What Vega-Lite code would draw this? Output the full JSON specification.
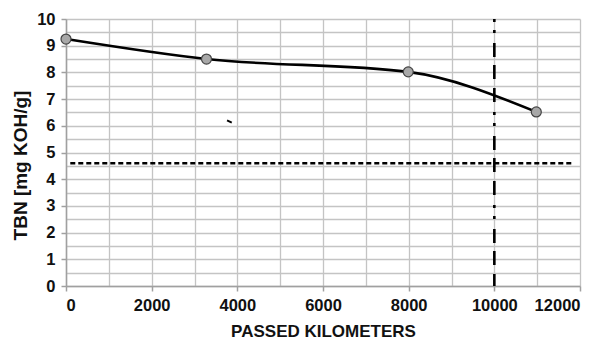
{
  "$schema": "https://vega.github.io/schema/vega-lite/v6.json",
  "width": 514,
  "height": 267,
  "autosize": "none",
  "padding": {"left": 66, "top": 19, "right": 28, "bottom": 54},
  "background": "white",
  "config": {
    "view": {"stroke": null},
    "font": "Liberation Sans",
    "axis": {
      "labelFont": "Liberation Sans",
      "labelFontWeight": "bold",
      "labelFontSize": 16.5,
      "labelColor": "#111",
      "labelOverlap": false,
      "titleFont": "Liberation Sans",
      "titleFontWeight": "bold",
      "titleColor": "#111",
      "domainColor": "#a0a0a0",
      "domainWidth": 1.5,
      "gridColor": "#c4c4c4",
      "gridWidth": 1.3,
      "tickColor": "#a0a0a0",
      "tickWidth": 1.5,
      "tickSize": 5
    }
  },
  "datasets": {
    "tbn": [
      {"km": 0, "tbn": 9.25},
      {"km": 3280, "tbn": 8.5},
      {"km": 7990, "tbn": 8.02},
      {"km": 10980, "tbn": 6.52}
    ],
    "limit": [
      {"km": 100, "tbn": 4.6},
      {"km": 11800, "tbn": 4.6}
    ],
    "change": [
      {"km": 10000, "tbn": 10},
      {"km": 10000, "tbn": 0}
    ],
    "stray": [
      {"km": 3760, "tbn": 6.2},
      {"km": 3870, "tbn": 6.12}
    ]
  },
  "layer": [
    {
      "data": {"name": "limit"},
      "mark": {"type": "line", "color": "black", "strokeWidth": 2.6, "strokeDash": [5, 3]},
      "encoding": {
        "x": {
          "field": "km", "type": "quantitative",
          "scale": {"domain": [0, 12000], "nice": false},
          "axis": {
            "title": "PASSED KILOMETERS",
            "titleFontSize": 17,
            "tickCount": 30,
            "values": [0,1000,2000,3000,4000,5000,6000,7000,8000,9000,10000,11000,12000],
            "labelExpr": "datum.value % 2000 === 0 ? datum.value : ''",
            "format": "d",
            "tickOpacity": {"condition": {"test": "datum.value % 2000 === 0", "value": 1}, "value": 0},
            "labelPadding": 6,
            "titlePadding": 10
          }
        },
        "y": {
          "field": "tbn", "type": "quantitative",
          "scale": {"domain": [0, 10], "nice": false},
          "axis": {
            "title": "TBN [mg KOH/g]",
            "titleFontSize": 19,
            "titleX": -46,
            "titleY": 146,
            "titleAlign": "center",
            "titleBaseline": "middle",
            "titleAngle": -90,
            "tickCount": 30,
            "values": [0,0.5,1,1.5,2,2.5,3,3.5,4,4.5,5,5.5,6,6.5,7,7.5,8,8.5,9,9.5,10],
            "labelExpr": "datum.value % 1 === 0 ? datum.value : ''",
            "tickOpacity": {"condition": {"test": "datum.value % 1 === 0", "value": 1}, "value": 0},
            "labelPadding": 6
          }
        }
      }
    },
    {
      "data": {"name": "change"},
      "mark": {"type": "line", "color": "black", "strokeWidth": 2.6, "strokeDash": [3, 8, 3, 10, 14, 8, 14, 9, 14, 10]},
      "encoding": {
        "x": {"field": "km", "type": "quantitative"},
        "y": {"field": "tbn", "type": "quantitative"},
        "order": {"field": "tbn", "sort": "descending"}
      }
    },
    {
      "data": {"name": "stray"},
      "mark": {"type": "line", "color": "black", "strokeWidth": 2},
      "encoding": {
        "x": {"field": "km", "type": "quantitative"},
        "y": {"field": "tbn", "type": "quantitative"}
      }
    },
    {
      "data": {"name": "tbn"},
      "mark": {"type": "line", "color": "black", "strokeWidth": 2.6, "interpolate": "monotone"},
      "encoding": {
        "x": {"field": "km", "type": "quantitative"},
        "y": {"field": "tbn", "type": "quantitative"}
      }
    },
    {
      "data": {"name": "tbn"},
      "mark": {"type": "point", "filled": true, "fill": "#a8a8a8", "stroke": "#444", "strokeWidth": 1.2, "size": 100, "opacity": 1},
      "encoding": {
        "x": {"field": "km", "type": "quantitative"},
        "y": {"field": "tbn", "type": "quantitative"}
      }
    }
  ]
}
